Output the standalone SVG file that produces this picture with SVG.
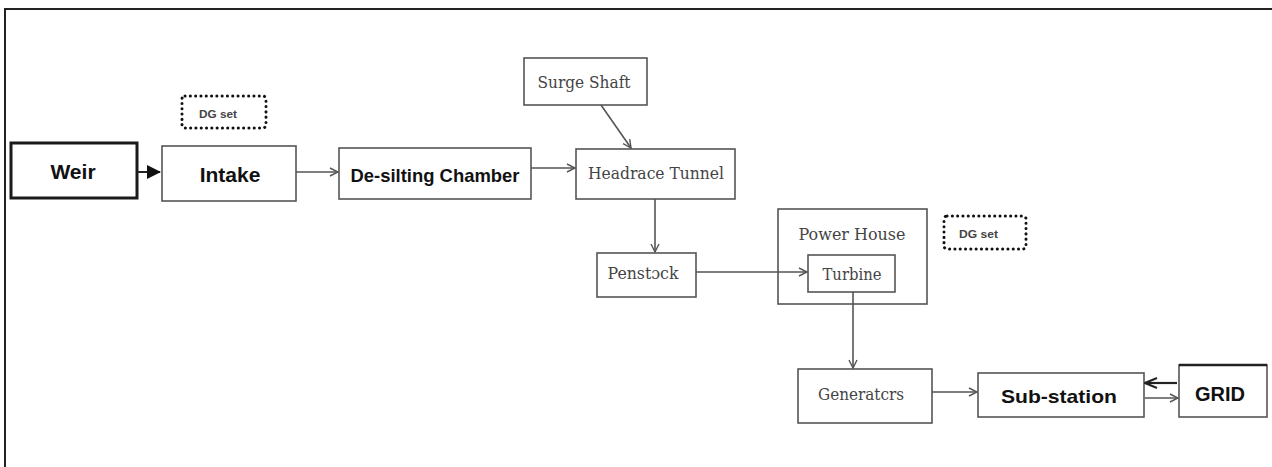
<svg xmlns="http://www.w3.org/2000/svg" width="1272" height="467" viewBox="0 0 1272 467">
<style>
.box{fill:#fff;stroke:#555;stroke-width:1.6}
.thick{fill:#fff;stroke:#1a1a1a;stroke-width:3}
.dg{fill:none;stroke:#111;stroke-width:3;stroke-dasharray:0.1 5.2;stroke-linecap:round}
.b{font-family:"Liberation Sans",Arial,sans-serif;font-weight:bold;fill:#111;text-anchor:middle}
.s{font-family:"DejaVu Serif","Liberation Serif",serif;fill:#444;text-anchor:middle}
.d{font-family:"Liberation Sans",Arial,sans-serif;font-weight:bold;fill:#444;font-size:10px}
.c{fill:none;stroke:#555;stroke-width:1.6}
</style>
<defs>
<marker id="open" viewBox="0 0 10 10" refX="9" refY="5" markerWidth="10" markerHeight="10" markerUnits="userSpaceOnUse" orient="auto">
<path d="M1,1 L9,5 L1,9" fill="none" stroke="#555" stroke-width="1.4"/>
</marker>
<marker id="open2" viewBox="0 0 14 12" refX="13" refY="6" markerWidth="14" markerHeight="12" markerUnits="userSpaceOnUse" orient="auto">
<path d="M1,1 L13,6 L1,11" fill="none" stroke="#222" stroke-width="2"/>
</marker>
<marker id="solid" viewBox="0 0 14 14" refX="13" refY="7" markerWidth="14" markerHeight="14" markerUnits="userSpaceOnUse" orient="auto">
<path d="M0,0 L14,7 L0,14 Z" fill="#111"/>
</marker>
</defs>
<rect width="1272" height="467" fill="#fff"/>
<path d="M5,467 V9 H1272" fill="none" stroke="#222" stroke-width="2"/>

<g id="weir"><rect class="thick" x="11" y="143" width="126" height="55"/><text class="b" x="73" y="179" font-size="21">Weir</text></g>
<g id="intake"><rect class="box" x="162" y="146" width="134" height="55"/><text class="b" x="230" y="182" font-size="21">Intake</text></g>
<g id="dgset1"><rect class="dg" x="182" y="96" width="84" height="32" rx="3"/><text class="d" x="199" y="118" textLength="38" lengthAdjust="spacingAndGlyphs">DG set</text></g>
<g id="desilting"><rect class="box" x="339" y="148" width="192" height="51"/><text class="b" x="435" y="182" font-size="18.5" textLength="169" lengthAdjust="spacingAndGlyphs">De-silting Chamber</text></g>
<g id="surgeshaft"><rect class="box" x="524" y="58" width="123" height="47"/><text class="s" x="584" y="88" font-size="16" textLength="93" lengthAdjust="spacingAndGlyphs">Surge Shaft</text></g>
<g id="headrace"><rect class="box" x="576" y="149" width="159" height="50"/><text class="s" x="656" y="179" font-size="17" textLength="136" lengthAdjust="spacingAndGlyphs">Headrace Tunnel</text></g>
<g id="penstock"><rect class="box" x="597" y="253" width="99" height="44"/><text class="s" x="643" y="279" font-size="16" textLength="71" lengthAdjust="spacingAndGlyphs">Penstɔck</text></g>
<g id="powerhouse"><rect class="box" x="778" y="209" width="149" height="95"/><text class="s" x="852" y="240" font-size="16" textLength="107" lengthAdjust="spacingAndGlyphs">Power House</text>
<g id="turbine"><rect class="box" x="808" y="255" width="87" height="37"/><text class="s" x="852" y="280" font-size="16" textLength="59" lengthAdjust="spacingAndGlyphs">Turbine</text></g></g>
<g id="dgset2"><rect class="dg" x="944" y="216" width="82" height="33" rx="3"/><text class="d" x="959" y="238" textLength="39" lengthAdjust="spacingAndGlyphs">DG set</text></g>
<g id="generators"><rect class="box" x="798" y="369" width="134" height="54"/><text class="s" x="861" y="400" font-size="16" textLength="86" lengthAdjust="spacingAndGlyphs">Generatcrs</text></g>
<g id="substation"><rect class="box" x="978" y="373" width="166" height="44"/><text class="b" x="1059" y="403" font-size="19" textLength="116" lengthAdjust="spacingAndGlyphs">Sub-station</text></g>
<g id="grid"><rect class="box" x="1179" y="365" width="88" height="52"/><line x1="1179" y1="365" x2="1267" y2="365" stroke="#222" stroke-width="2.4"/><text class="b" x="1220" y="401" font-size="20" textLength="50" lengthAdjust="spacingAndGlyphs">GRID</text></g>

<g id="connectors">
<line x1="137" y1="172" x2="160" y2="172" stroke="#222" stroke-width="2" marker-end="url(#solid)"/>
<line class="c" x1="296" y1="172" x2="338" y2="172" marker-end="url(#open)"/>
<line class="c" x1="531" y1="168" x2="575" y2="168" marker-end="url(#open)"/>
<line class="c" x1="601" y1="105" x2="631" y2="148" marker-end="url(#open)"/>
<line class="c" x1="655" y1="199" x2="655" y2="252" marker-end="url(#open)"/>
<line class="c" x1="696" y1="272" x2="807" y2="272" marker-end="url(#open)"/>
<line class="c" x1="853" y1="292" x2="853" y2="368" marker-end="url(#open)"/>
<line class="c" x1="932" y1="392" x2="977" y2="392" marker-end="url(#open)"/>
<line x1="1177" y1="383" x2="1145" y2="383" stroke="#222" stroke-width="2.2" marker-end="url(#open2)"/>
<line class="c" x1="1145" y1="398" x2="1178" y2="398" marker-end="url(#open)"/>
</g>
</svg>
